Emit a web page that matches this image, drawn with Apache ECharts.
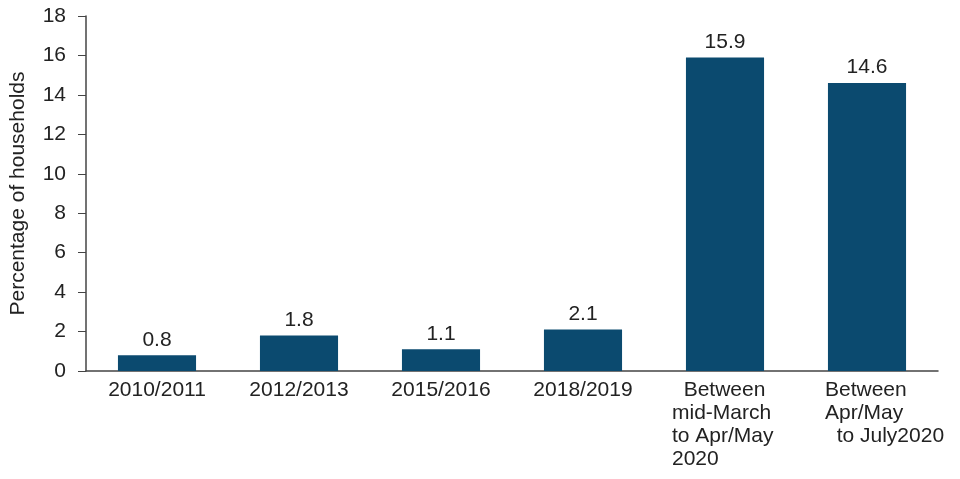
<!DOCTYPE html>
<html>
<head>
<meta charset="utf-8">
<script src="https://cdn.jsdelivr.net/npm/echarts@6/dist/echarts.min.js"></script>
<style>
  html, body { margin: 0; padding: 0; background: #fff; }
  #main { width: 960px; height: 479px; }
</style>
</head>
<body>
<div id="main"></div>
<script>
var categories = [
    '2010/2011',
    '2012/2013',
    '2015/2016',
    '2018/2019',
    '  Between\nmid-March\nto Apr/May\n2020',
    'Between\nApr/May\n  to July2020'
];
var households = [0.8, 1.8, 1.1, 2.1, 15.9, 14.6];
var yTicks = { min: 0, max: 18, step: 2 };

var chart = echarts.init(document.getElementById('main'));
var font = 'Liberation Sans, Arial, sans-serif';

// the last two labels are left aligned blocks, shifted back over their bar
var labelShift = [0, 0, 0, 0, -53, -42];
var xData = categories.map(function (c, i) {
    if (!labelShift[i]) return c;
    return { value: c, textStyle: { align: 'left', padding: [0, 0, 0, labelShift[i]] } };
});

var option = {
    animation: false,
    grid: { left: 85, right: 22, top: 16, bottom: 108, containLabel: false },
    xAxis: {
        type: 'category',
        data: xData,
        axisLine: { show: true, lineStyle: { color: '#444', width: 1.5 } },
        axisTick: { show: false },
        axisLabel: {
            interval: 0,
            margin: 8,
            color: '#222',
            fontSize: 21,
            lineHeight: 23,
            fontFamily: font
        }
    },
    yAxis: {
        type: 'value',
        min: yTicks.min,
        max: yTicks.max,
        interval: yTicks.step,
        name: 'Percentage of households',
        nameLocation: 'middle',
        nameGap: 57,
        nameTextStyle: { color: '#222', fontSize: 21, fontFamily: font },
        splitLine: { show: false },
        axisLine: { show: true, lineStyle: { color: '#444', width: 1.5 } },
        axisTick: { show: true, length: 8, lineStyle: { color: '#444' } },
        axisLabel: { color: '#222', fontSize: 21, margin: 20, fontFamily: font }
    },
    series: [{
        type: 'bar',
        data: households,
        barWidth: '55%',
        itemStyle: { color: '#0b4a6f' },
        label: {
            show: true,
            position: 'top',
            distance: 5,
            color: '#222',
            fontSize: 21,
            fontFamily: font
        }
    }]
};
chart.setOption(option);
</script>
</body>
</html>
